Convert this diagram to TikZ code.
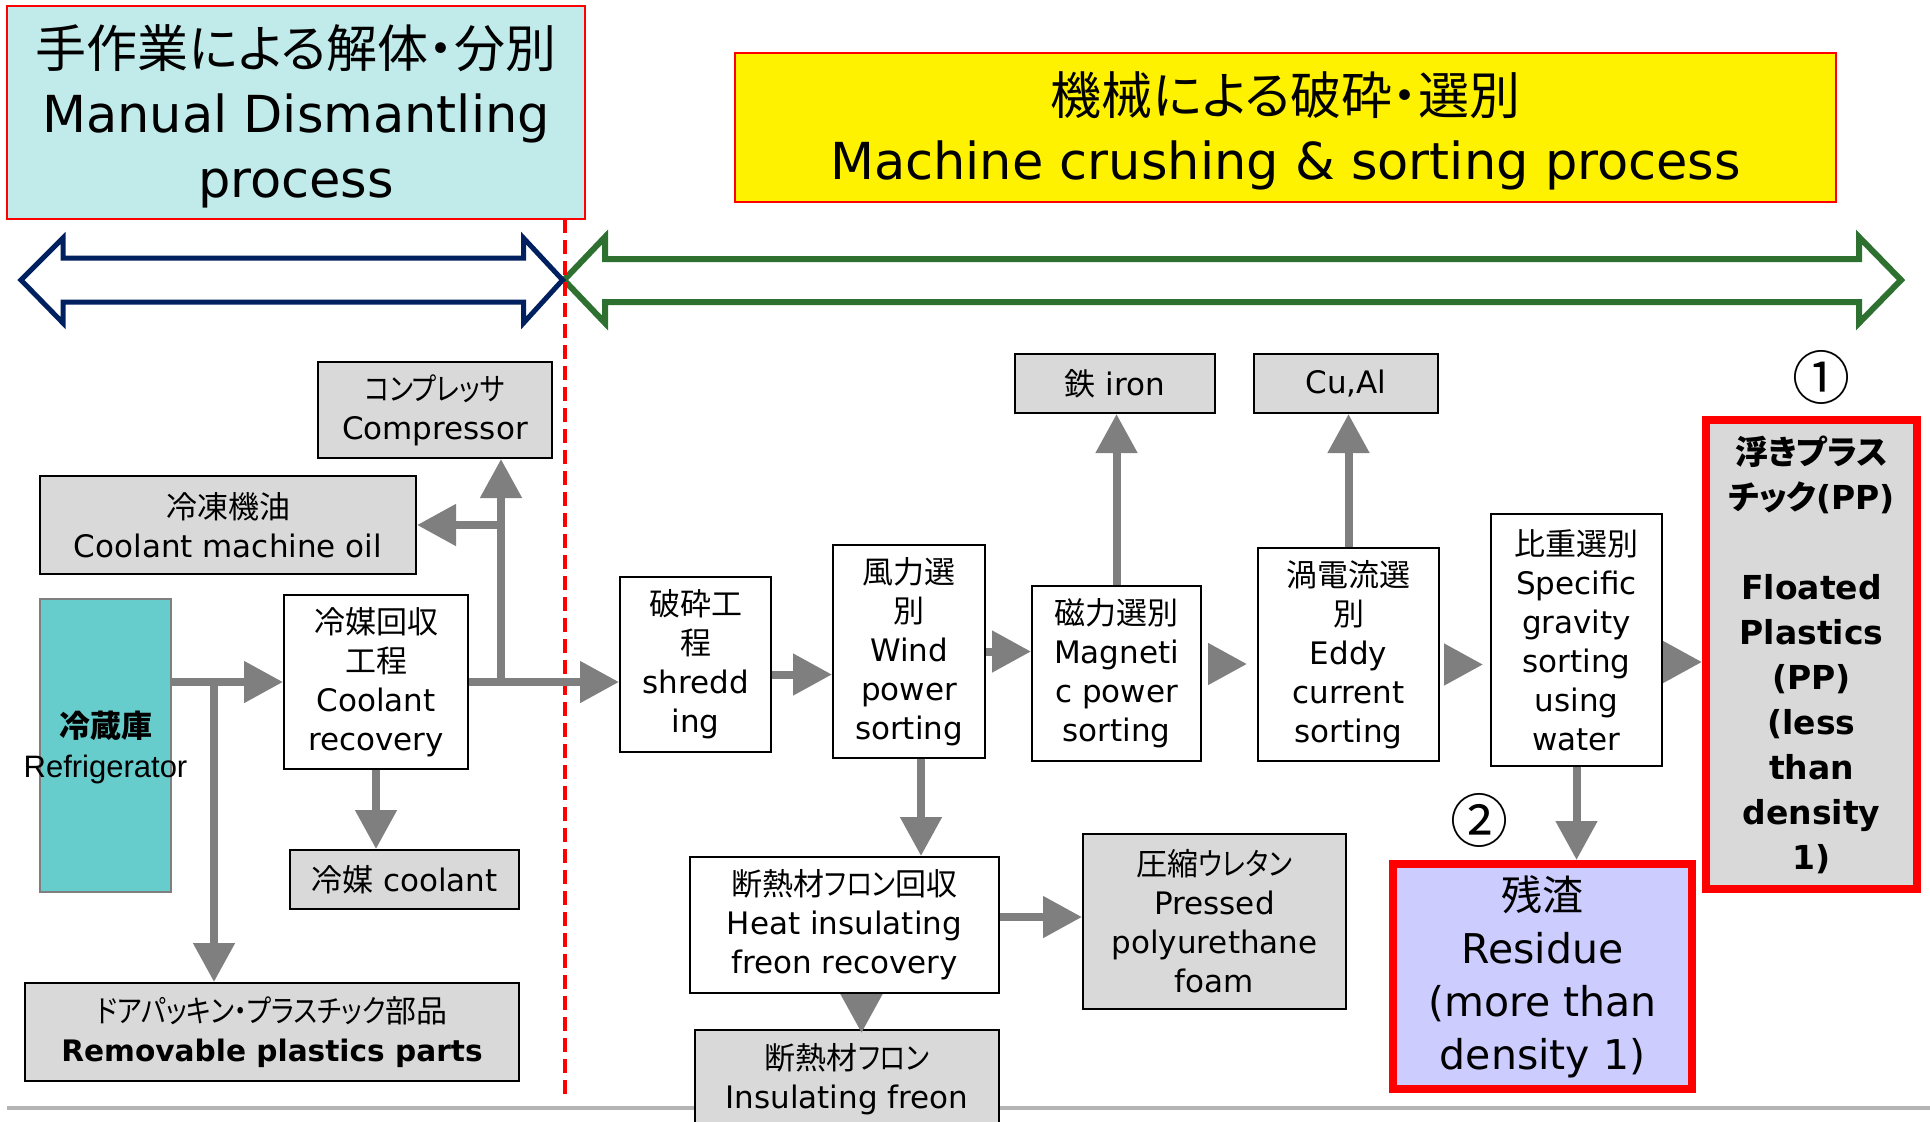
\documentclass[tikz,border=0pt]{standalone}
\usepackage{fontspec}
\setmainfont{DejaVu Sans}
\newfontfamily\jp{Noto Sans CJK JP}[RawFeature=+palt]
\newfontfamily\jpn{Noto Sans CJK JP}[RawFeature=+palt, FakeStretch=0.85]
\newfontfamily\arialf{Liberation Sans}
\usetikzlibrary{arrows.meta}
\definecolor{hdrcyan}{HTML}{C1EBEB}
\definecolor{boxgray}{HTML}{D9D9D9}
\definecolor{fridgeteal}{HTML}{66CCCC}
\definecolor{resblue}{HTML}{CCCCFF}
\definecolor{arrgray}{HTML}{7F7F7F}
\definecolor{navyarr}{HTML}{002060}
\definecolor{greenarr}{HTML}{2E7030}
\definecolor{lineg}{HTML}{B4B4B4}
\newcommand\J[1]{{\jp #1}}
\newcommand\K[1]{{\jpn #1}}
\newcommand\pbox[7]{%
  \pgfmathsetmacro\pbCx{(#2+#4)/2}%
  \pgfmathsetmacro\pbCy{(#3+#5)/2}%
  \pgfmathsetmacro\pbW{(#4-#2)*0.5}%
  \pgfmathsetmacro\pbH{(#5-#3)*0.5}%
  \node[#6, minimum width=\pbW pt, minimum height=\pbH pt] (#1) at (\pbCx,\pbCy) {#7};}
\tikzset{
  hdr/.style={draw=red, line width=1pt, inner sep=0pt, align=center, font=\fontsize{25.5}{32.5}\selectfont},
  box/.style={draw=black, line width=1pt, fill=white, inner sep=0pt, align=center, font=\fontsize{15.5}{19.5}\selectfont},
  gbox/.style={box, fill=boxgray},
  redbox/.style={draw=red, line width=4pt, inner sep=0pt, align=center},
  garrow/.style={draw=arrgray, line width=4pt, -{Triangle[length=19.5pt,width=20pt]}},
  dblarrow/.style={fill=white, line join=miter},
}
\begin{document}
\begin{tikzpicture}[x=0.5pt, y=-0.5pt]
\useasboundingbox (0,0) rectangle (1930,1121);
\clip (0,0) rectangle (1930,1121);
% bottom rule
\draw[lineg, line width=2pt] (7,1108) -- (1930,1108);
% double arrows
\draw[dblarrow, draw=greenarr, line width=3pt] (564,280) -- (605,237) -- (605,259) -- (1859,259) -- (1859,237) -- (1901,280) -- (1859,323) -- (1859,302) -- (605,302) -- (605,323) -- cycle;
\draw[dblarrow, draw=navyarr, line width=2.5pt] (21,280) -- (63,238) -- (63,258) -- (523.5,258) -- (523.5,238) -- (562.6,280) -- (523.5,323) -- (523.5,302) -- (63,302) -- (63,323) -- cycle;
% headers
\pbox{manual}{7}{6}{585}{219}{hdr, fill=hdrcyan}{\rule{0pt}{25pt}\J{手作業による解体・分別}\\Manual Dismantling\\process}
\pbox{machine}{735}{53}{1836}{202}{hdr, fill=yellow}{\rule{0pt}{25pt}\J{機械による破砕・選別}\\Machine crushing \& sorting process}
% divider
\draw[red, line width=2pt, dash pattern=on 7pt off 3.5pt] (564.5,219) -- (564.5,1100);
% manual side boxes
\pbox{comp}{318}{362}{552}{458}{gbox}{\K{コンプレッサ}\\Compressor}
\pbox{oil}{40}{476}{416}{574}{gbox}{\J{冷凍機油}\\Coolant machine oil}
\pbox{fridge}{40}{599}{171}{892}{draw=arrgray, line width=1pt, fill=fridgeteal}{}
\node[align=center, inner sep=0pt, font=\fontsize{15.5}{20}\selectfont] (fridgelbl) at (105.5,747) {\J{\bfseries 冷蔵庫}\\{\arialf Refrigerator}};
\pbox{crec}{284}{595}{468}{769}{box}{\J{冷媒回収}\\\J{工程}\\Coolant\\recovery}
\pbox{cool}{290}{850}{519}{909}{gbox}{\J{冷媒} coolant}
\pbox{rem}{25}{983}{519}{1081}{gbox}{\K{ドアパッキン・プラスチック}\J{部品}\\{\fontsize{14.8}{19.5}\selectfont\bfseries Removable plastics parts}}
% machine side boxes
\pbox{shred}{620}{577}{771}{752}{box}{\J{破砕工}\\\J{程}\\shredd\\ing}
\pbox{wind}{833}{545}{985}{758}{box}{\J{風力選}\\\J{別}\\Wind\\power\\sorting}
\pbox{mag}{1032}{586}{1201}{761}{box}{\J{磁力選別}\\Magneti\\c power\\sorting}
\pbox{iron}{1015}{354}{1215}{413}{gbox}{\J{鉄} iron}
\pbox{cual}{1254}{354}{1438}{413}{gbox}{Cu,Al}
\pbox{eddy}{1258}{548}{1439}{761}{box}{\J{渦電流選}\\\J{別}\\Eddy\\current\\sorting}
\pbox{spec}{1491}{514}{1662}{766}{box}{\J{比重選別}\\Specific\\gravity\\sorting\\using\\water}
\pbox{pp}{1706}{420}{1917}{889}{redbox, fill=boxgray, font=\fontsize{16.5}{22.5}\selectfont\bfseries}{\J{浮きプラス}\\\J{チック}(PP)\\\mbox{}\\Floated\\Plastics\\(PP)\\(less\\than\\density\\1)}
\pbox{res}{1393}{864}{1692}{1089}{redbox, fill=resblue, font=\fontsize{20.5}{26.5}\selectfont}{\J{残渣}\\Residue\\(more than\\density 1)}
\pbox{heat}{690}{857}{999}{993}{box}{\J{断熱材}\K{フロン}\J{回収}\\Heat insulating\\freon recovery}
\pbox{pressed}{1083}{834}{1346}{1009}{gbox}{\J{圧縮}\K{ウレタン}\\Pressed\\polyurethane\\foam}
\pbox{ins}{695}{1030}{999}{1128}{gbox}{\J{断熱材}\K{フロン}\\Insulating freon}
% circled numbers
\node[inner sep=0pt, font={\fontsize{29}{29}\selectfont\jp}] (n1) at (1821.5,377) {①};
\node[inner sep=0pt, font={\fontsize{29}{29}\selectfont\jp}] (n2) at (1479,820) {②};
% connectors
\coordinate (j1) at (214,683);
\coordinate (j2) at (501,682);
\draw[garrow] (fridge.east |- crec.west) -- (crec.west);
\draw[garrow] (j1) -- (j1 |- rem.north);
\draw[garrow] (crec.east) -- (crec.east -| shred.west);
\draw[garrow] (j2) -- (j2 |- comp.south);
\draw[garrow] (j2 |- oil.east) -- (oil.east);
\draw[garrow] (crec.south) -- (crec.south |- cool.north);
\path ([yshift=-5pt]shred.east) coordinate (s1);
\draw[garrow] (s1) -- (s1 -| wind.west);
\draw[garrow] (wind.east) -- (wind.east -| mag.west);
\path ([shift={(10,-9.5)}]mag.east) coordinate (m1);
\path (m1 -| eddy.west) ++(-10,0) coordinate (m2);
\draw[garrow] (m1) -- (m2);
\path ([shift={(7,10)}]eddy.east) coordinate (e1);
\path (e1 -| spec.west) ++(-7,0) coordinate (e2);
\draw[garrow] (e1) -- (e2);
\path ([shift={(2,22)}]spec.east) coordinate (p1);
\draw[garrow] (p1) -- (p1 -| pp.west);
\draw[garrow] (mag.north) -- (mag.north |- iron.south);
\draw[garrow] (eddy.north) -- (eddy.north |- cual.south);
\path ([xshift=6pt]wind.south) coordinate (w1);
\draw[garrow] (w1) -- (w1 |- heat.north);
\path ([yshift=4pt]heat.east) coordinate (h1);
\draw[garrow] (h1) -- (h1 -| pressed.west);
\path ([shift={(17,3)}]heat.south) coordinate (h2);
\path (h2 |- ins.north) ++(0,4) coordinate (h3);
\draw[garrow] (h2) -- (h3);
\draw[garrow] (spec.south) -- (spec.south |- res.north);
\end{tikzpicture}
\end{document}
